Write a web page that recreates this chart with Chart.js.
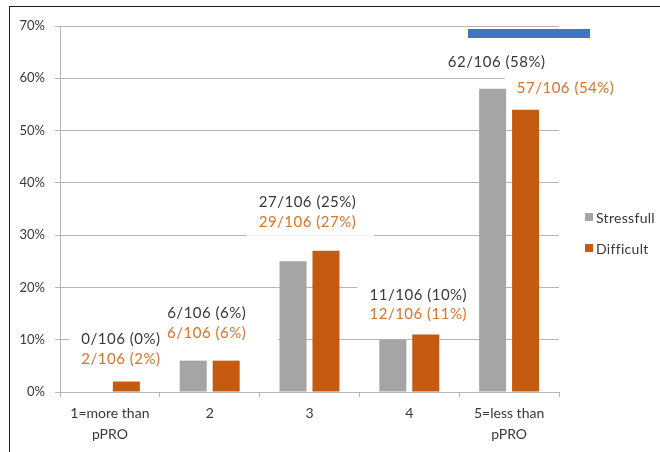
<!DOCTYPE html>
<html>
<head>
<meta charset="utf-8">
<script src="https://cdn.jsdelivr.net/npm/chart.js@4.4.0/dist/chart.umd.min.js"></script>
<style>
  html, body { margin: 0; padding: 0; background: #fff; }
  #wrap { position: relative; width: 660px; height: 452px; overflow: hidden; }
  #frame { position: absolute; left: 9px; top: 6px; right: -4px; bottom: -4px;
           border-left: 1px solid #1e1e1e; border-top: 1px solid #1e1e1e; pointer-events: none; }
  #flag { position: absolute; left: 468px; top: 29px; width: 122px; height: 9px; background: #4472c4; }
</style>
</head>
<body>
<div id="wrap">
  <canvas id="c"></canvas>
  <div id="frame"></div>
  <div id="flag"></div>
</div>
<script>
/* answers per category, out of 106 respondents */
const CATEGORIES = [["1=more than", "pPRO"], "2", "3", "4", ["5=less than", "pPRO"]];
const TOTAL = 106;
const STRESS_N   = [0, 6, 27, 11, 62];
const STRESS_PCT = [0, 6, 25, 10, 58];
const DIFF_N     = [2, 6, 29, 12, 57];
const DIFF_PCT   = [2, 6, 27, 11, 54];
const Y_MAX = 70, Y_STEP = 10;

const GRID = "#b5b5b5";
const TEXT = "#383838";
const ORANGE_TEXT = "#d9722b";
const FONT = "Lato";

/* label placement: [dx from bar centre, rise above bar top] for the gray (s) and orange (d) label */
const LABEL_SPOTS = [
  { s: [27.5, 53],   d: [-5.5, 22.5] },
  { s: [13.5, 47],   d: [-19.5, 27],  padR: 32 },
  { s: [14.5, 59.5], d: [-18.5, 29] },
  { s: [25.5, 45],   d: [-7.5, 20] },
  { s: [4, 27],      d: [40, 22] }
];

function eachLabel(chart, fn) {
  chart.data.datasets.forEach((ds, di) => {
    const meta = chart.getDatasetMeta(di);
    meta.data.forEach((bar, i) => {
      const spot = LABEL_SPOTS[i];
      const off = di === 0 ? spot.s : spot.d;
      const text = `${ds.counts[i]}/${TOTAL} (${ds.data[i]}%)`;
      fn(text, bar.x + off[0], bar.y - off[1], di === 0 ? TEXT : ORANGE_TEXT, spot.padR || 18);
    });
  });
}

function labelFont(ctx) {
  ctx.font = `15px ${FONT}`;
  ctx.letterSpacing = "0.5px";
}

const valueLabels = {
  id: "valueLabels",
  beforeDatasetsDraw(chart) {
    const ctx = chart.ctx;
    ctx.save();
    labelFont(ctx);
    ctx.fillStyle = "#fff";
    eachLabel(chart, (text, x, y, col, padR) => {
      const w = ctx.measureText(text).width;
      ctx.fillRect(x - w / 2 - 12, y - 11, w + 12 + padR, 25);
    });
    ctx.restore();
  },
  afterDatasetsDraw(chart) {
    const ctx = chart.ctx;
    ctx.save();
    labelFont(ctx);
    ctx.textAlign = "center";
    ctx.textBaseline = "middle";
    eachLabel(chart, (text, x, y, col) => {
      ctx.fillStyle = col;
      ctx.fillText(text, x, y);
    });
    ctx.restore();
  }
};

const sideLegend = {
  id: "sideLegend",
  afterDraw(chart) {
    const ctx = chart.ctx;
    const x = chart.chartArea.right + 26;
    ctx.save();
    ctx.font = `14px ${FONT}`;
    ctx.letterSpacing = "0.3px";
    ctx.textAlign = "left";
    ctx.textBaseline = "middle";
    chart.data.datasets.forEach((ds, k) => {
      const y = 217 + k * 31;
      ctx.fillStyle = ds.backgroundColor;
      ctx.fillRect(x, y - 4, 8, 8);
      ctx.fillStyle = TEXT;
      ctx.fillText(ds.label, x + 11, y + 1);
    });
    ctx.restore();
  }
};

function draw() {
  new Chart(document.getElementById("c"), {
    type: "bar",
    data: {
      labels: CATEGORIES,
      datasets: [
        { label: "Stressfull", data: STRESS_PCT, counts: STRESS_N, backgroundColor: "#a5a5a5",
          categoryPercentage: 0.66, barPercentage: 0.82 },
        { label: "Difficult", data: DIFF_PCT, counts: DIFF_N, backgroundColor: "#c55a11",
          categoryPercentage: 0.66, barPercentage: 0.82 }
      ]
    },
    options: {
      responsive: true,
      maintainAspectRatio: false,
      animation: false,
      layout: { padding: { left: 10, top: 26, right: 101, bottom: 0 } },
      plugins: { legend: { display: false }, tooltip: { enabled: false } },
      scales: {
        x: {
          grid: { drawOnChartArea: false, drawTicks: true, tickLength: 5, color: GRID, offset: true },
          border: { color: GRID },
          ticks: { color: TEXT, font: { family: FONT, size: 14, lineHeight: 1.5 }, padding: 6,
                   maxRotation: 0, autoSkip: false },
          afterFit: s => { s.height = 60; }
        },
        y: {
          min: 0, max: Y_MAX,
          grid: { color: GRID, tickLength: 5 },
          border: { color: GRID },
          ticks: { stepSize: Y_STEP, callback: v => v + "%", color: TEXT,
                   font: { family: FONT, size: 13 }, padding: 10 },
          afterFit: s => { s.width = 50; }
        }
      }
    },
    plugins: [valueLabels, sideLegend]
  });
}

document.fonts.load(`15px ${FONT}`).then(draw, draw);
</script>
</body>
</html>
